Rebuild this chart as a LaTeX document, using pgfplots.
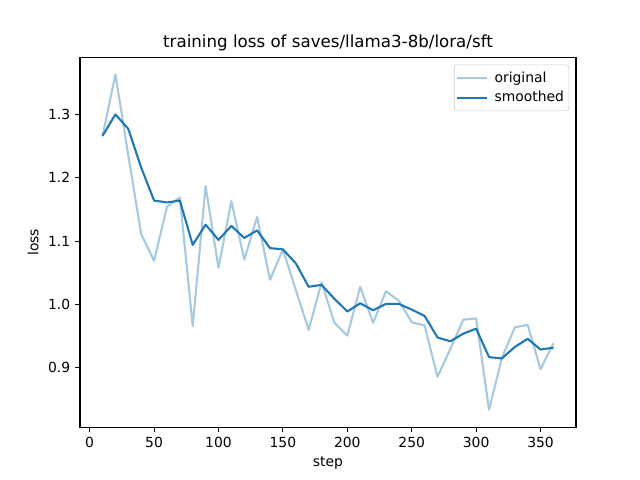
\documentclass[border=0pt]{standalone}
\usepackage{fontspec}
\setmainfont{DejaVu Sans}
\usepackage{pgfplots}
\pgfplotsset{compat=1.18}
\definecolor{mplblue}{HTML}{1F77B4}
\definecolor{mpllight}{HTML}{A5C9E1}
\begin{document}
\begin{tikzpicture}
\useasboundingbox (-57.6pt,-38.016pt) rectangle (403.2pt,307.584pt);
\begin{axis}[
  scale only axis,
  width=357.12pt, height=266.112pt,
  xmin=-7.5, xmax=377.5,
  ymin=0.8065, ymax=1.3895,
  xtick={0,50,...,350},
  ytick={0.9,1.0,1.1,1.2,1.3},
  yticklabel style={/pgf/number format/.cd,fixed,fixed zerofill,precision=1},
  /pgf/number format/assume math mode=true,
  tick align=outside,
  tick pos=left,
  major tick length=3.5pt,
  tick style={black, line width=0.8pt},
  axis line style={line width=0.8pt},
  ticklabel style={font=\fontsize{10}{12}\selectfont},
  label style={font=\fontsize{10}{12}\selectfont},
  title style={font=\fontsize{12}{14}\selectfont, yshift=-4.6pt},
  title={training loss of saves/llama3-8b/lora/sft},
  xlabel={step},
  ylabel={loss},
  legend style={at={(1,1)}, anchor=north east, xshift=-5pt, yshift=-5pt,
    draw=black!20, rounded corners=2pt, fill=white, fill opacity=0.8, text opacity=1,
    font=\fontsize{10}{12}\selectfont, row sep=1pt, inner xsep=1.5pt, inner ysep=3pt},
  legend cell align=left,
  legend image code/.code={\draw[#1] (0pt,0pt) -- (21pt,0pt); \path (24pt,0pt);},
]
\addplot[mpllight, line width=1.5pt, line join=round] coordinates {
(10,1.266) (20,1.363) (30,1.235) (40,1.111) (50,1.069) (60,1.154) (70,1.169)
(80,0.966) (90,1.187) (100,1.058) (110,1.163) (120,1.071) (130,1.138) (140,1.039)
(150,1.087) (160,1.023) (170,0.960) (180,1.035) (190,0.971) (200,0.951) (210,1.028)
(220,0.971) (230,1.021) (240,1.006) (250,0.972) (260,0.967) (270,0.886) (280,0.930)
(290,0.976) (300,0.978) (310,0.834) (320,0.916) (330,0.964) (340,0.968) (350,0.898)
(360,0.939)
};
\addlegendentry{original}
\addplot[mplblue, line width=1.5pt, line join=round] coordinates {
(10,1.266) (20,1.300) (30,1.277) (40,1.216) (50,1.164) (60,1.161) (70,1.164)
(80,1.094) (90,1.126) (100,1.102) (110,1.124) (120,1.105) (130,1.117) (140,1.089)
(150,1.087) (160,1.065) (170,1.028) (180,1.031) (190,1.009) (200,0.989) (210,1.002)
(220,0.991) (230,1.001) (240,1.001) (250,0.992) (260,0.982) (270,0.948) (280,0.942)
(290,0.954) (300,0.962) (310,0.917) (320,0.915) (330,0.933) (340,0.946) (350,0.929)
(360,0.932)
};
\addlegendentry{smoothed}
\end{axis}
\end{tikzpicture}
\end{document}
